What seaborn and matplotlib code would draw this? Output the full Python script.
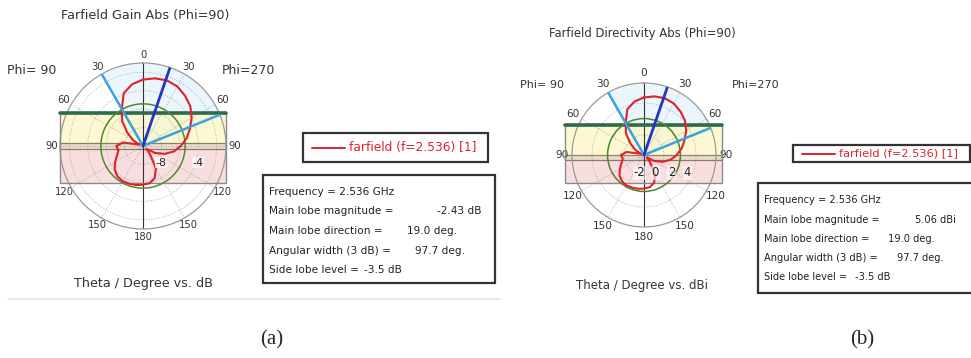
import numpy as np
import matplotlib.pyplot as plt
from matplotlib.patches import Rectangle
from matplotlib.lines import Line2D
import seaborn as sns

# theta cut at phi=90, clockwise from top (deg)
theta_deg = [0, 10, 20, 30, 40, 50, 60, 70, 80, 90, 100, 110,
             120, 130, 140, 150, 160, 170, 180, 190, 200, 210, 220, 230,
             240, 250, 260, 270, 280, 290, 300, 310, 320, 330, 340, 350]
gain_db = [-2.80, -2.55, -2.43, -2.55, -2.90, -3.30, -3.90, -4.60, -5.20, -5.90, -6.60, -7.50,
           -8.50, -9.50, -8.80, -7.20, -6.30, -5.90, -5.80, -5.70, -5.65, -5.60, -5.70, -6.00,
           -6.50, -7.00, -7.30, -7.10, -7.80, -9.60, -8.80, -7.80, -6.50, -5.40, -3.90, -3.20]
dir_dbi = [4.69, 4.94, 5.06, 4.94, 4.59, 4.19, 3.59, 2.89, 2.29, 1.59, 0.89, -0.01,
           -1.01, -2.01, -1.31, 0.29, 1.19, 1.59, 1.69, 1.79, 1.84, 1.89, 1.79, 1.49,
           0.99, 0.49, 0.19, 0.39, -0.31, -2.11, -1.31, -0.31, 0.99, 2.09, 3.59, 4.29]

theta_ticks = [0, 30, 60, 90, 120, 150, 180, 210, 240, 270, 300, 330]
theta_labels = ['0', '30', '60', '90', '120', '150', '180', '150', '120', '90', '60', '30']

main_dir = 19.0
ang_width = 97.7

info_keys = ["Frequency = 2.536 GHz", "Main lobe magnitude =", "Main lobe direction =",
             "Angular width (3 dB) =", "Side lobe level ="]
info_vals_a = ["", "-2.43 dB", "19.0 deg.", "97.7 deg.", "-3.5 dB"]
info_vals_b = ["", "5.06 dBi", "19.0 deg.", "97.7 deg.", "-3.5 dB"]
legend_txt = "farfield (f=2.536) [1]"

RED = '#e0202c'
TXT = '#333333'
W, H = 971, 358

sns.set_theme(style="white")
plt.rcParams['font.family'] = ['DejaVu Sans']

fig = plt.figure(figsize=(W / 100, H / 100), dpi=100)
fig.patch.set_facecolor('white')


def fx(px):
    return px / W


def fy(py):
    return 1 - py / H


def panel(ax, vals, rmin, rmax, rings, rlabels, lab_y, lab_dx, fs, pad, band, rect_x):
    th = np.deg2rad(theta_deg + [theta_deg[0]])
    r = list(vals) + [vals[0]]
    ax.set_theta_zero_location('N')
    ax.set_theta_direction(-1)
    ax.set_facecolor('white')
    # overlay band (yellow upper, pink lower)
    top, mid_hi, mid_lo, bot = band
    x0, x1 = rect_x
    ax.add_patch(Rectangle((x0, mid_hi), x1 - x0, top - mid_hi, transform=ax.transAxes,
                           facecolor='#fbf6c4', alpha=0.75, edgecolor='none', zorder=0.3, clip_on=False))
    ax.add_patch(Rectangle((x0, bot), x1 - x0, mid_lo - bot, transform=ax.transAxes,
                           facecolor='#f8d4d6', alpha=0.75, edgecolor='none', zorder=0.3, clip_on=False))
    ax.add_patch(Rectangle((x0, mid_lo), x1 - x0, mid_hi - mid_lo, transform=ax.transAxes,
                           facecolor='#eadccb', edgecolor='#8c7a6a', lw=0.9, zorder=0.35, clip_on=False))
    ax.add_patch(Rectangle((x0, bot), x1 - x0, top - bot, transform=ax.transAxes,
                           facecolor='none', edgecolor='#8a8a8a', lw=1.0, zorder=3, clip_on=False))
    ax.add_artist(Line2D([x0, x1], [top, top], transform=ax.transAxes, color='#2f6b4a',
                         lw=2.6, zorder=3.5, clip_on=False))
    # 3 dB sector tint
    lo, hi = main_dir - ang_width / 2, main_dir + ang_width / 2
    sec = np.deg2rad(np.linspace(lo, hi, 60))
    ax.fill_between(sec, rmin, rmax, color='#dff1fa', alpha=0.6, zorder=0.2, lw=0)

    ax.set_ylim(rmin, rmax)
    ax.set_yticks(rings)
    ax.set_yticklabels([])
    ax.set_thetagrids(theta_ticks, theta_labels, fontsize=fs, color=TXT)
    ax.tick_params(axis='x', pad=pad)
    ax.grid(True, color='#9a9a9a', lw=0.6, ls=(0, (1, 2)))
    ax.spines['polar'].set_color('#9a9a9a')
    ax.spines['polar'].set_linewidth(0.9)
    ax.axvline(0, color=TXT, lw=0.8, zorder=2)
    ax.axvline(np.pi, color=TXT, lw=0.8, zorder=2)

    sns.lineplot(x=th, y=r, sort=False, estimator=None, ax=ax, color=RED, lw=1.5, zorder=5)
    peak = max(vals)
    ax.axhline(peak - 3, color='#4f8a2a', lw=1.1, zorder=4)
    ax.axvline(np.deg2rad(lo), color='#3aa2e0', lw=1.8, zorder=6)
    ax.axvline(np.deg2rad(hi), color='#3aa2e0', lw=1.8, zorder=6)
    ax.axvline(np.deg2rad(main_dir), color='#2233c8', lw=2.0, zorder=7)
    ax.set_xlabel('')
    ax.set_ylabel('')
    for v in rlabels:
        f = (v - rmin) / (rmax - rmin)
        ax.text(0.5 + 0.5 * f + lab_dx, lab_y, f'{v:g}', transform=ax.transAxes, ha='center',
                va='center', fontsize=fs + 0.8, color='#222222', zorder=8,
                bbox=dict(facecolor='white', edgecolor='none', alpha=0.6, pad=0.3))


def boxes(lx0, ly0, lx1, ly1, ix0, iy0, ix1, iy1, vals, line_y, val_x, fs_leg, fs):
    fig.add_artist(Rectangle((fx(lx0), fy(ly1)), fx(lx1) - fx(lx0), fy(ly0) - fy(ly1),
                             transform=fig.transFigure, facecolor='white', edgecolor=TXT, lw=1.6))
    ym = (ly0 + ly1) / 2
    fig.add_artist(Line2D([fx(lx0 + 9), fx(lx0 + 42)], [fy(ym), fy(ym)], transform=fig.transFigure,
                          color=RED, lw=1.4))
    fig.text(fx(lx0 + 46), fy(ym), legend_txt, color=RED, fontsize=fs_leg, va='center', ha='left')
    fig.add_artist(Rectangle((fx(ix0), fy(iy1)), fx(ix1) - fx(ix0), fy(iy0) - fy(iy1),
                             transform=fig.transFigure, facecolor='white', edgecolor=TXT, lw=1.6))
    for k, v, y, vx in zip(info_keys, vals, line_y, val_x):
        fig.text(fx(ix0 + 6), fy(y), k, fontsize=fs, va='center', ha='left', color='#222222')
        if v:
            fig.text(fx(vx), fy(y), v, fontsize=fs, va='center', ha='left', color='#222222')


# screenshot frame line under the left panel
fig.add_artist(Line2D([fx(8), fx(500)], [fy(299), fy(299)], transform=fig.transFigure,
                      color='#e2e2e2', lw=1.2))

ax1 = fig.add_axes([fx(60), fy(229), 166 / W, 166 / H], projection='polar')
panel(ax1, gain_db, -10, -1, [-8, -6, -4, -2], [-8, -4], 0.40, 0.0, 7.2, -7,
      (0.699, 0.52, 0.482, 0.277), (0.0, 1.0))
ax2 = fig.add_axes([fx(572), fy(227), 144 / W, 144 / H], projection='polar')
panel(ax2, dir_dbi, -2.5, 6.5, [-2, 0, 2, 4], [-2, 0, 2, 4], 0.375, -0.06, 7.6, -5.5,
      (0.708, 0.5, 0.465, 0.306), (-0.05, 1.04))

fig.text(fx(145), fy(16), "Farfield Gain Abs (Phi=90)", fontsize=9.2, ha='center', va='center', color=TXT)
fig.text(fx(143), fy(283), "Theta / Degree vs. dB", fontsize=9.2, ha='center', va='center', color=TXT)
fig.text(fx(7), fy(70), "Phi= 90", fontsize=9.0, ha='left', va='center', color=TXT)
fig.text(fx(222), fy(70), "Phi=270", fontsize=9.0, ha='left', va='center', color=TXT)

fig.text(fx(642), fy(33), "Farfield Directivity Abs (Phi=90)", fontsize=8.4, ha='center', va='center', color=TXT)
fig.text(fx(642), fy(285), "Theta / Degree vs. dBi", fontsize=8.5, ha='center', va='center', color=TXT)
fig.text(fx(520), fy(85), "Phi= 90", fontsize=8.0, ha='left', va='center', color=TXT)
fig.text(fx(732), fy(85), "Phi=270", fontsize=8.0, ha='left', va='center', color=TXT)

boxes(303, 133, 488, 162, 263, 175, 495, 283, info_vals_a, [192, 211, 231, 251, 270],
      [0, 437, 407, 415, 364], 8.8, 7.6)
boxes(793, 145, 970, 162, 758, 183, 985, 293, info_vals_b, [200, 220, 239, 258, 277],
      [0, 915, 888, 897, 855], 8.2, 7.1)

fig.text(fx(272), fy(340), "(a)", fontsize=15, family='Liberation Serif', ha='center', va='center')
fig.text(fx(862), fy(340), "(b)", fontsize=15, family='Liberation Serif', ha='center', va='center')

fig.savefig('out.png', dpi=100, facecolor='white')
